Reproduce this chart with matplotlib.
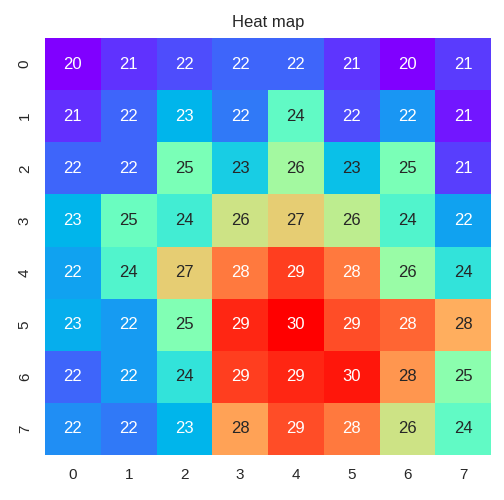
import numpy as np
import matplotlib
matplotlib.use("Agg")
import matplotlib.pyplot as plt
import seaborn as sns

# integer readings shown in the cells
labels = [
    [20, 21, 22, 22, 22, 21, 20, 21],
    [21, 22, 23, 22, 24, 22, 22, 21],
    [22, 22, 25, 23, 26, 23, 25, 21],
    [23, 25, 24, 26, 27, 26, 24, 22],
    [22, 24, 27, 28, 29, 28, 26, 24],
    [23, 22, 25, 29, 30, 29, 28, 28],
    [22, 22, 24, 29, 29, 30, 28, 25],
    [22, 22, 23, 28, 29, 28, 26, 24],
]

# underlying values behind the colours
values = [
    [20.0, 20.65, 21.0, 21.3, 21.3, 20.7, 20.0, 20.75],
    [20.6, 21.3, 22.5, 21.6, 24.4, 21.0, 22.0, 20.3],
    [21.3, 21.3, 24.9, 23.0, 25.7, 22.7, 24.9, 20.8],
    [22.5, 24.6, 23.8, 26.5, 27.0, 26.2, 24.1, 22.2],
    [22.2, 24.1, 27.0, 28.4, 29.2, 28.4, 25.5, 23.5],
    [22.4, 22.1, 25.0, 29.5, 30.0, 29.0, 28.7, 27.6],
    [21.3, 22.1, 23.5, 29.2, 29.5, 29.7, 28.0, 25.2],
    [21.9, 21.6, 22.5, 27.8, 29.0, 28.4, 26.5, 24.4],
]

sns.set_theme(style="white")
plt.rcParams['font.family'] = ['Liberation Sans', 'DejaVu Sans']

fig, ax = plt.subplots(figsize=(5.04, 5.0), dpi=100)
sns.heatmap(np.array(values), annot=np.array(labels), fmt="d", cmap="rainbow",
            cbar=False, ax=ax, annot_kws={"fontsize": 12})
ax.set_title("Heat map", fontsize=12, pad=8)
ax.tick_params(labelsize=11)

fig.subplots_adjust(left=45/504, right=491/504, bottom=1-455/500, top=1-38/500)
plt.savefig("out.png", dpi=100)
